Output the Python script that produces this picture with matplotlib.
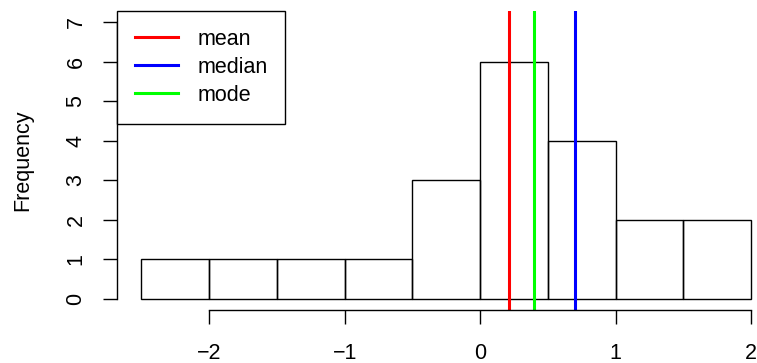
import matplotlib
matplotlib.use("Agg")
import matplotlib.pyplot as plt

plt.rcParams['font.family'] = ['Liberation Sans', 'DejaVu Sans']

# histogram bins and counts
bin_edges = [-2.5, -2.0, -1.5, -1.0, -0.5, 0.0, 0.5, 1.0, 1.5, 2.0]
counts = [1, 1, 1, 1, 3, 6, 4, 2, 2]

# summary statistics
stat_names = ["mean", "median", "mode"]
stat_values = [0.21, 0.70, 0.40]
stat_colors = ["#ff0000", "#0000ff", "#00ff00"]

x_ticks = [-2, -1, 0, 1, 2]
y_ticks = [0, 1, 2, 3, 4, 5, 6, 7]

W, H = 757, 363
FS = 15.5
fig = plt.figure(figsize=(W / 100, H / 100), dpi=100)
ax = fig.add_axes([117 / W, 53 / H, 658.5 / W, 299 / H])

lefts = bin_edges[:-1]
widths = [b - a for a, b in zip(bin_edges[:-1], bin_edges[1:])]
ax.bar(lefts, counts, width=widths, align='edge', fill=False,
       edgecolor='black', linewidth=1.0)

handles = []
for name, val, col in zip(stat_names, stat_values, stat_colors):
    h = ax.axvline(val, color=col, linewidth=2.2, label=name)
    handles.append(h)

# R style axes: extend ranges by 4%
x0, x1 = bin_edges[0], bin_edges[-1]
ax.set_xlim(x0 - 0.04 * (x1 - x0), x1 + 0.04 * (x1 - x0))
ax.set_ylim(-0.04 * 7, 7 + 0.04 * 7)

for s in ['top', 'right']:
    ax.spines[s].set_visible(False)
ax.spines['bottom'].set_bounds(x_ticks[0], x_ticks[-1])
ax.spines['left'].set_bounds(y_ticks[0], y_ticks[-1])
ax.spines['bottom'].set_linewidth(1.0)
ax.spines['left'].set_linewidth(1.0)

ax.set_xticks(x_ticks)
ax.set_yticks(y_ticks)
ax.set_xticklabels([str(t).replace('-', '\u2212') for t in x_ticks])
ax.tick_params(axis='both', direction='out', length=10, width=1.0,
               labelsize=FS, pad=12)
ax.tick_params(axis='x', pad=13.5)
for lab in ax.get_yticklabels():
    lab.set_rotation(90)
    lab.set_va('center')

fig.text(23 / W, 1 - 160.5 / H, "Frequency", rotation=90,
         ha='center', va='center', fontsize=FS)

leg = ax.legend(handles=handles, loc='upper left', borderaxespad=0,
                fancybox=False, edgecolor='black', framealpha=1,
                fontsize=FS, handlelength=2.0, handletextpad=0.9,
                labelspacing=0.33, borderpad=0.82)
leg.get_frame().set_linewidth(1.0)
for line in leg.get_lines():
    line.set_linewidth(2.2)

fig.savefig("out.png", dpi=100)
